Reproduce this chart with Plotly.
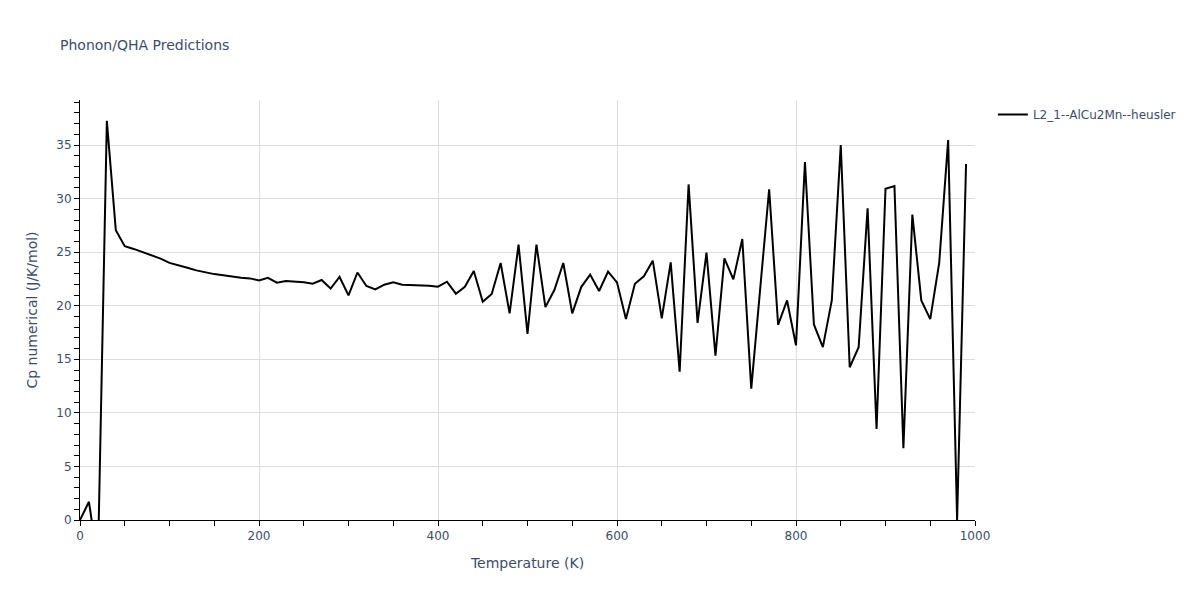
import plotly.graph_objects as go

temperature = list(range(0, 1000, 10))
cp = [
    0.0, 1.7, -4.0, 37.25, 27.05, 25.55, 25.3, 25.0, 24.7, 24.4,
    24.0, 23.8, 23.55, 23.3, 23.1, 22.95, 22.85, 22.7, 22.6, 22.55,
    22.35, 22.6, 22.15, 22.3, 22.24, 22.18, 22.05, 22.4, 21.6, 22.68,
    20.96, 23.1, 21.84, 21.52, 21.96, 22.18, 21.96, 21.94, 21.9, 21.87,
    21.78, 22.24, 21.12, 21.77, 23.24, 20.37, 21.09, 23.99, 19.28, 25.7,
    17.38, 25.7, 19.87, 21.46, 23.99, 19.28, 21.74, 22.9, 21.37, 23.18,
    22.18, 18.76, 22.05, 22.74, 24.2, 18.81, 24.05, 13.85, 31.32, 18.4,
    24.96, 15.35, 24.42, 22.46, 26.23, 12.26, 21.6, 30.87, 18.22, 20.49,
    16.3, 33.41, 18.25, 16.13, 20.49, 35.0, 14.25, 16.13, 29.1, 8.49,
    30.91, 31.16, 6.71, 28.51, 20.49, 18.75, 23.99, 35.47, 0.0, 33.22,
]
series_name = "L2_1--AlCu2Mn--heusler"

fig = go.Figure()
fig.add_trace(go.Scatter(
    x=temperature, y=cp, mode="lines", name=series_name,
    line=dict(color="black", width=2),
))

axis_common = dict(
    showline=True, linecolor="black", linewidth=1,
    ticks="outside", ticklen=5, tickcolor="black",
    showgrid=True, gridcolor="#dddddd", gridwidth=1,
    zeroline=False,
    tickfont=dict(color="#3b4d6b", size=12),
    title_font=dict(color="#3b4d6b", size=14),
)

fig.update_layout(
    template="plotly_white",
    title=dict(text="Phonon/QHA Predictions", font=dict(size=14, color="#3b4d6b")),
    width=1200, height=600,
    margin=dict(l=80, r=225, t=100, b=80, autoexpand=False),
    paper_bgcolor="white", plot_bgcolor="white",
    showlegend=True,
    legend=dict(font=dict(color="#3b4d6b")),
    font=dict(family="DejaVu Sans, Verdana, sans-serif", size=12),
)
fig.update_xaxes(
    title_text="Temperature (K)", range=[0, 1000], dtick=200,
    minor=dict(dtick=50, ticks="outside", ticklen=5, tickcolor="black", showgrid=False),
    **axis_common,
)
fig.update_yaxes(
    title_text="Cp numerical (J/K/mol)", range=[0, 39.2], dtick=5,
    minor=dict(dtick=1, ticks="outside", ticklen=5, tickcolor="black", showgrid=False),
    **axis_common,
)

fig.write_html("out.html", config={"displayModeBar": False},
               post_script="document.body.style.margin='0';")
